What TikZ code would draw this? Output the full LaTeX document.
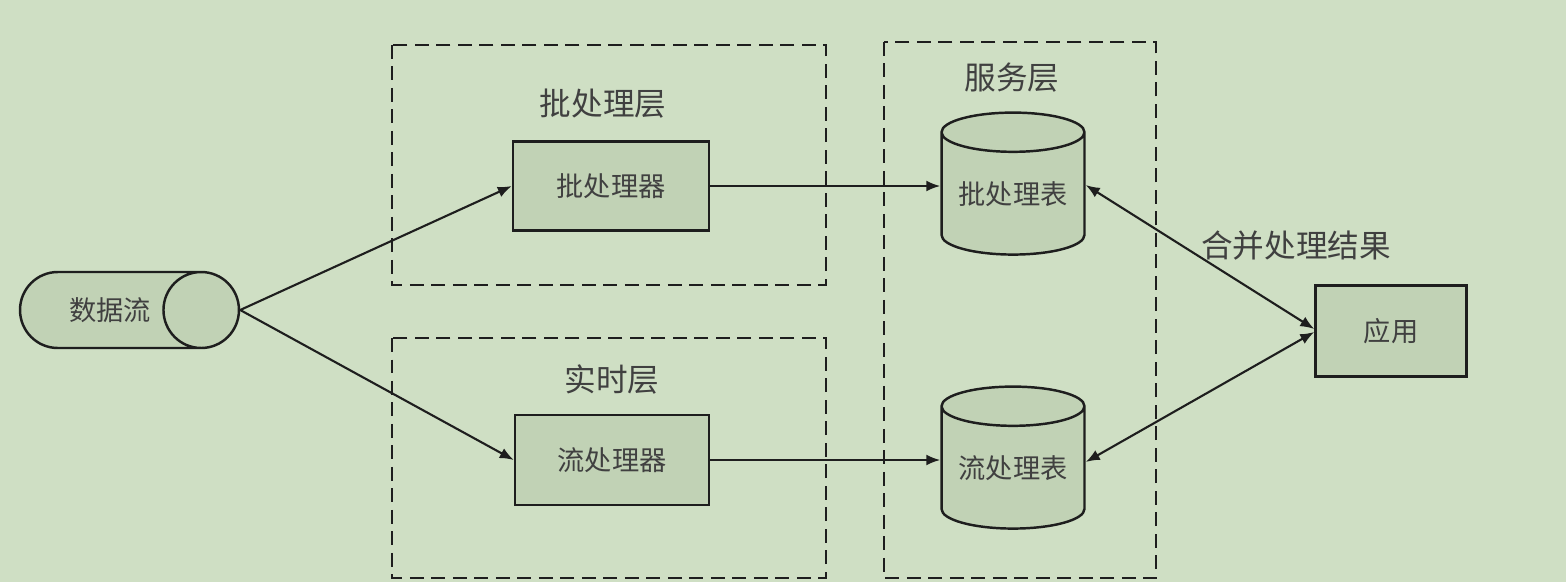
\documentclass[tikz,border=0pt]{standalone}
\usepackage{fontspec}
\newfontfamily\cjk{Noto Sans CJK SC}
\usetikzlibrary{shapes.geometric, arrows.meta}
\definecolor{bgcol}{RGB}{207,223,196}
\definecolor{fillcol}{RGB}{193,210,181}
\definecolor{inkcol}{RGB}{30,30,30}
\tikzset{
  >={Latex[length=0.28cm, width=0.22cm]},
  every node/.style = {font=\cjk, text=inkcol!85},
  proc/.style = {draw=inkcol, fill=fillcol, line width=1.4pt, inner sep=0pt, font=\cjk\fontsize{15.5}{15.5}\selectfont},
  layer/.style = {draw=inkcol, line width=1.6pt, dash pattern=on 0.28cm off 0.15cm},
  title/.style = {font=\cjk\fontsize{18}{18}\selectfont},
  link/.style = {draw=inkcol, line width=1.2pt}
}
\begin{document}
\begin{tikzpicture}[x=0.02cm, y=-0.02cm]
\fill [bgcol] (0,0) rectangle (1566,582);
\useasboundingbox (0,0) rectangle (1566,582);
% layers
\draw [layer] (392,45) rectangle (826,285);
\draw [layer] (392,338) rectangle (826,578);
\draw [layer] (884,42) rectangle (1156,578);
\node [title] (batchtitle) at (603,104) {批处理层};
\node [title] (speedtitle) at (612,380) {实时层};
\node [title] (servetitle) at (1012,78) {服务层};
% nodes
\node [proc, cylinder, aspect=3, minimum width=1.52cm, minimum height=4.38cm] (stream) at (110,310) {数据流};
\node [proc, rectangle, minimum width=3.92cm, minimum height=1.78cm] (batch) at (611,186) {批处理器};
\node [proc, rectangle, minimum width=3.88cm, minimum height=1.80cm] (speed) at (612,460) {流处理器};
\node [proc, cylinder, shape border rotate=90, aspect=0.36, minimum width=2.86cm, minimum height=2.84cm] (batchtab) at (1013,194) {批处理表};
\node [proc, cylinder, shape border rotate=90, aspect=0.36, minimum width=2.86cm, minimum height=2.84cm] (speedtab) at (1013,468) {流处理表};
\node [proc, rectangle, minimum width=3.02cm, minimum height=1.82cm] (app) at (1391,331) {应用};
\node [title] (merge) at (1296,246) {合并处理结果};
% links
\draw [link, ->] (stream.east) -- (batch.west);
\draw [link, ->] (stream.east) -- (speed.west);
\draw [link, ->] (batch.east) -- (batch.east -| batchtab.west);
\draw [link, ->] (speed.east) -- (speed.east -| speedtab.west);
\draw [link, <->] ([yshift=0.18cm]batchtab.east) -- ([yshift=0.04cm]app.west);
\draw [link, <->] ([yshift=0.12cm]speedtab.east) -- ([yshift=-0.02cm]app.west);
\end{tikzpicture}
\end{document}
